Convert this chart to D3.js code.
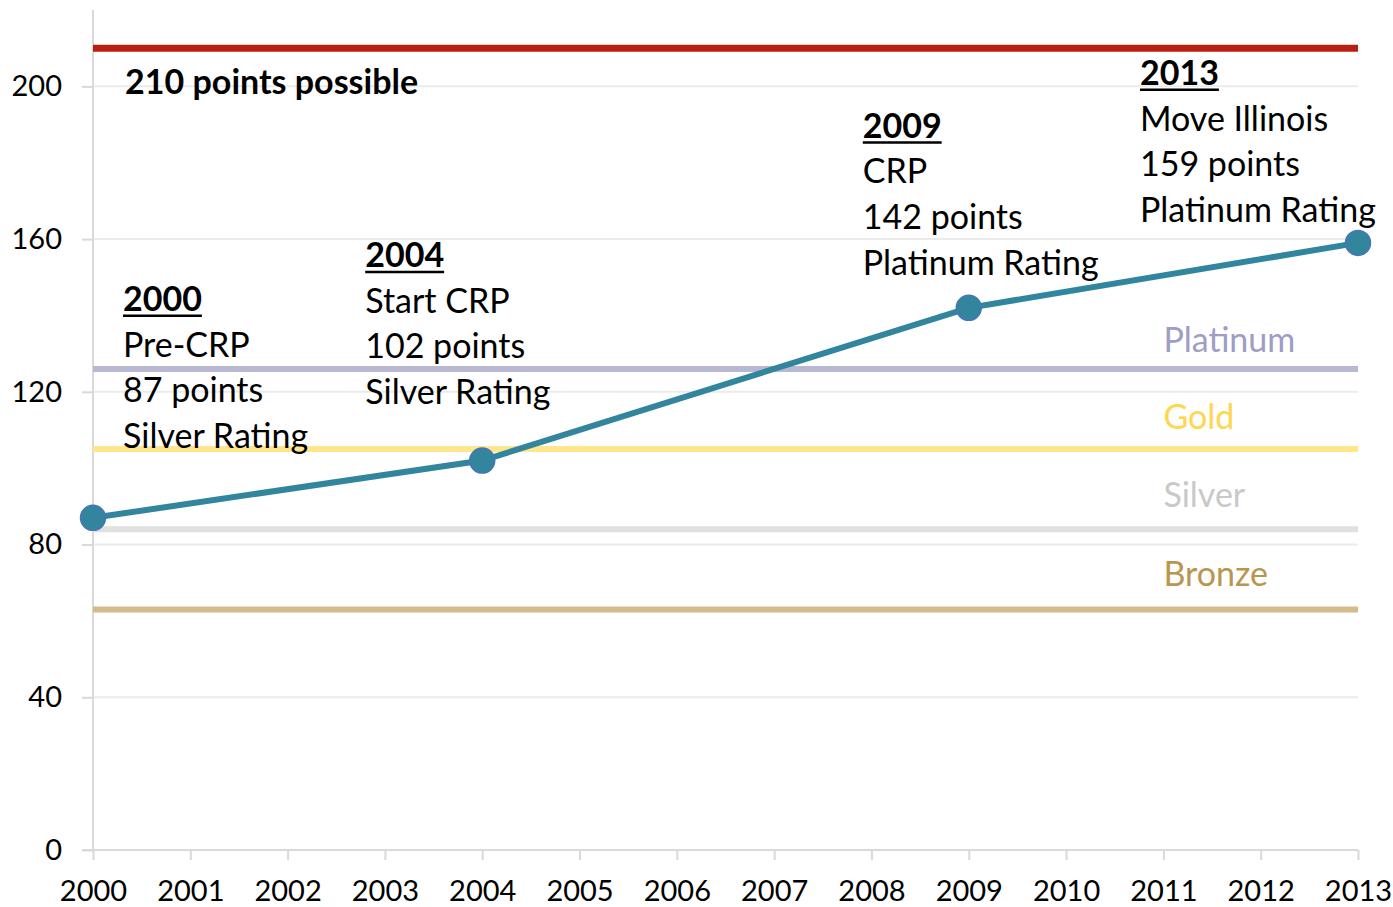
<!DOCTYPE html>
<html>
<head>
<meta charset="utf-8">
<script src="https://cdn.jsdelivr.net/npm/d3@7"></script>
<style>
  body { margin: 0; background: #fff; }
  #chart { width: 1393px; height: 907px; }
  text { font-family: Lato, "Open Sans", sans-serif; }
</style>
</head>
<body>
<div id="chart"></div>
<script>
// data
const years = [2000, 2001, 2002, 2003, 2004, 2005, 2006, 2007, 2008, 2009, 2010, 2011, 2012, 2013];
const yTicks = [0, 40, 80, 120, 160, 200];
const scoreYears = [2000, 2004, 2009, 2013];
const scoreValues = [87, 102, 142, 159];
const maxPoints = 210;
const tierNames = ["Platinum", "Gold", "Silver", "Bronze"];
const tierValues = [126, 105, 84, 63];
const tierLabelValues = [133.6, 113.4, 93, 72.3];
const tierLineColors = ["#b8b8d2", "#ffe68c", "#e0e0e0", "#d3bb8b"];
const tierTextColors = ["#9d9dc5", "#ffd64f", "#c9c9c9", "#b9964f"];
const noteYears = [2000, 2004, 2009, 2013];
const noteTitles = ["2000", "2004", "2009", "2013"];
const noteLines = [
    ["Pre-CRP", "87 points", "Silver Rating"],
    ["Start CRP", "102 points", "Silver Rating"],
    ["CRP", "142 points", "Platinum Rating"],
    ["Move Illinois", "159 points", "Platinum Rating"]
];
const noteTop = [141.2, 152.7, 186.6, 200.4];   // value at each title's baseline
const noteShift = [30, -117, -106, -218];        // px from the year's x position

const margin = {top: 10, right: 35, bottom: 57, left: 93};
const graphWidth = 1393, graphHeight = 907;
const width = graphWidth - margin.left - margin.right;
const height = graphHeight - margin.top - margin.bottom;

const x = d3.scaleLinear().domain([2000, 2013]).range([0, width]);
const y = d3.scaleLinear().domain([0, 220]).range([height, 0]);

const svg = d3.select("#chart").append("svg")
    .attr("width", graphWidth)
    .attr("height", graphHeight)
    .append("g")
    .attr("transform", "translate(" + margin.left + "," + margin.top + ")");

/*  gridlines  */
svg.selectAll(".grid")
    .data(yTicks)
    .enter().append("line")
    .attr("x1", 0).attr("x2", width)
    .attr("y1", d => y(d)).attr("y2", d => y(d))
    .attr("stroke", "#ebebeb")
    .attr("stroke-width", 2);

/*  axes  */
const yAxis = svg.append("g")
    .call(d3.axisLeft(y).tickValues(yTicks).tickSize(11).tickPadding(20));
const xAxis = svg.append("g")
    .attr("transform", "translate(0," + height + ")")
    .call(d3.axisBottom(x).tickValues(years).tickFormat(d3.format("d")).tickSize(10).tickPadding(20));

[xAxis, yAxis].forEach(function(ax) {
    ax.select(".domain").attr("stroke", "#d9d9d9").attr("stroke-width", 2);
    ax.selectAll(".tick line").attr("stroke", "#d9d9d9").attr("stroke-width", 2);
    ax.selectAll(".tick text")
        .attr("fill", "#000")
        .style("font-size", "29px")
        .style("font-family", "Lato, 'Open Sans', sans-serif");
});
yAxis.select(".domain").attr("d", "M0,0V" + height);
xAxis.select(".domain").attr("d", "M-11,0H" + width);

/*  tier lines  */
svg.selectAll(".tier")
    .data(tierValues)
    .enter().append("line")
    .attr("x1", 0).attr("x2", width)
    .attr("y1", d => y(d)).attr("y2", d => y(d))
    .attr("stroke", (d, i) => tierLineColors[i])
    .attr("stroke-width", 6);

svg.selectAll(".tier-label")
    .data(tierNames)
    .enter().append("text")
    .attr("x", x(2011))
    .attr("y", (d, i) => y(tierLabelValues[i]))
    .attr("dy", "0.35em")
    .attr("fill", (d, i) => tierTextColors[i])
    .style("font-size", "34px")
    .text(d => d);

/*  max line  */
svg.append("line")
    .attr("x1", 0).attr("x2", width)
    .attr("y1", y(maxPoints)).attr("y2", y(maxPoints))
    .attr("stroke", "#b91f12")
    .attr("stroke-width", 7);

svg.append("text")
    .attr("x", x(2000.33))
    .attr("y", y(maxPoints) + 46)
    .style("font-size", "34px")
    .style("font-weight", "bold")
    .attr("fill", "#000")
    .text("210 points possible");

/*  annotations  */
noteTitles.forEach(function(t, i) {
    const nx = x(noteYears[i]) + noteShift[i];
    const ny = y(noteTop[i]);
    const g = svg.append("g").attr("transform", "translate(" + nx + "," + ny + ")");
    const title = g.append("text")
        .style("font-size", "34px")
        .style("font-weight", "bold")
        .attr("fill", "#000")
        .text(t);
    const w = title.node().getComputedTextLength();
    g.append("line")
        .attr("x1", 0).attr("x2", w)
        .attr("y1", 5).attr("y2", 5)
        .attr("stroke", "#000").attr("stroke-width", 2.5);
    noteLines[i].forEach(function(l, j) {
        g.append("text")
            .attr("y", 45.7 * (j + 1))
            .style("font-size", "34px")
            .attr("fill", "#000")
            .text(l);
    });
});

/*  score line  */
const line = d3.line()
    .x((d, i) => x(scoreYears[i]))
    .y(d => y(d));

svg.append("path")
    .datum(scoreValues)
    .attr("d", line)
    .attr("fill", "none")
    .attr("stroke", "#31859c")
    .attr("stroke-width", 6);

svg.selectAll(".dot")
    .data(scoreValues)
    .enter().append("circle")
    .attr("cx", (d, i) => x(scoreYears[i]))
    .attr("cy", d => y(d))
    .attr("r", 12.5)
    .attr("fill", "#31859c")
    .attr("stroke", "#4a74b8")
    .attr("stroke-width", 1.5);
</script>
</body>
</html>
